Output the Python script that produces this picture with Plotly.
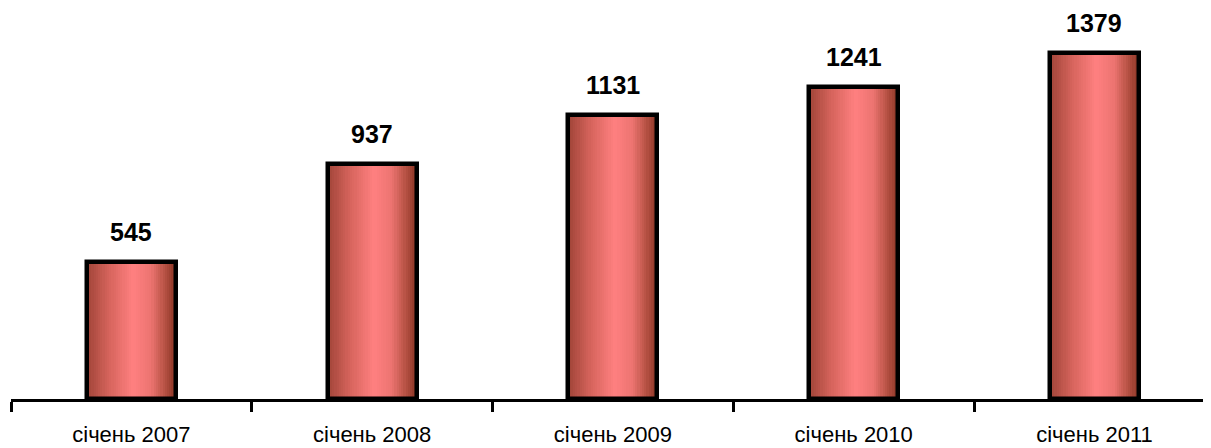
import plotly.graph_objects as go

categories = ["січень 2007", "січень 2008", "січень 2009", "січень 2010", "січень 2011"]
values = [545, 937, 1131, 1241, 1379]

BAR_W = 0.37
N = 40
stops = [(0.0, (160, 68, 56)), (0.25, (214, 100, 92)), (0.52, (255, 128, 128)),
         (0.72, (236, 116, 112)), (0.88, (180, 80, 66)), (1.0, (138, 52, 36))]

def color_at(t):
    for (p0, c0), (p1, c1) in zip(stops[:-1], stops[1:]):
        if p0 <= t <= p1:
            f = (t - p0) / (p1 - p0)
            return "rgb(%d,%d,%d)" % tuple(round(a + (b - a) * f) for a, b in zip(c0, c1))
    return "rgb(%d,%d,%d)" % stops[-1][1]

fig = go.Figure()
step = BAR_W / N
for i in range(N):
    t = (i + 0.5) / N
    w = step * 1.6 if i < N - 1 else step
    fig.add_trace(go.Bar(
        x=categories, y=values, width=w, offset=-BAR_W / 2 + i * step,
        marker=dict(color=color_at(t), line=dict(width=0)),
        hoverinfo="skip", showlegend=False))

fig.add_trace(go.Bar(
    x=categories, y=values, width=BAR_W,
    marker=dict(color="rgba(0,0,0,0)", line=dict(color="black", width=4.5)),
    showlegend=False))

for c, v in zip(categories, values):
    fig.add_annotation(x=c, y=v, text="<b>%d</b>" % v, showarrow=False,
                       yanchor="bottom", yshift=14,
                       font=dict(family="Liberation Sans, Arial", size=25, color="black"))

fig.update_layout(
    width=1203, height=440,
    margin=dict(l=3, r=0, t=0, b=49),
    barmode="overlay", bargap=0,
    plot_bgcolor="white", paper_bgcolor="white",
    xaxis=dict(type="category", range=[-0.5, 4.484], tickson="boundaries",
               showline=True, linecolor="black", linewidth=3,
               ticks="outside", ticklen=10, tickwidth=3, tickcolor="black",
               ticklabelstandoff=14,
               showgrid=False, zeroline=False,
               tickfont=dict(family="Liberation Sans, Arial", size=22, color="black")),
    yaxis=dict(range=[0, 1557], visible=False, showgrid=False, zeroline=False),
)

fig.write_html("out.html")
